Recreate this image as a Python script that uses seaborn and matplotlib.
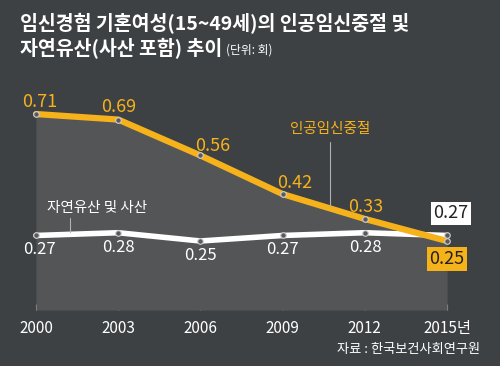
import numpy as np
import pandas as pd
import matplotlib
matplotlib.use("Agg")
import matplotlib.pyplot as plt
import seaborn as sns

# data (unit: times)
years = [2000, 2003, 2006, 2009, 2012, 2015]
year_labels = ["2000", "2003", "2006", "2009", "2012", "2015년"]
abortion = [0.71, 0.69, 0.56, 0.42, 0.33, 0.25]       # 인공임신중절
miscarriage = [0.27, 0.28, 0.25, 0.27, 0.28, 0.27]    # 자연유산 및 사산

BG = "#3e4144"
FILL = "#545557"
ORANGE = "#f6b21b"
WHITE = "#ffffff"

sns.set_style("dark")
plt.rcParams["font.family"] = ["Noto Sans CJK KR", "DejaVu Sans"]

df = pd.DataFrame({"year": years, "abortion": abortion, "miscarriage": miscarriage})

fig = plt.figure(figsize=(5, 3.66), dpi=100, facecolor=BG)
ax = fig.add_axes([36 / 500, 56 / 366, 411 / 500, 0.8 * 276 / 366])
ax.set_facecolor("none")

# grey area under the abortion line
ax.fill_between(df["year"], df["abortion"], 0, color=FILL, lw=0, zorder=1)

sns.lineplot(data=df, x="year", y="miscarriage", color=WHITE, lw=4, ax=ax,
             zorder=3, clip_on=False)
sns.lineplot(data=df, x="year", y="abortion", color=ORANGE, lw=4.5, ax=ax,
             zorder=4, clip_on=False)
for col, z in [("miscarriage", 5), ("abortion", 6)]:
    ax.scatter(df["year"], df[col], s=16, color="#5a5a5c", edgecolor="#cfcfcf",
               lw=0.8, zorder=z, clip_on=False)

ax.set_xlim(2000, 2015)
ax.set_ylim(0, 0.8)
ax.set_xticks(years)
ax.set_xticklabels(year_labels)
ax.set_yticks([])
ax.set_xlabel("")
ax.set_ylabel("")
ax.tick_params(axis="x", direction="in", length=4.5, width=0.8, color="#a8a8a8",
               labelcolor="white", labelsize=11, pad=7, bottom=True)
for s in ax.spines.values():
    s.set_visible(False)
ax.grid(False)

# value labels
ab_off = [(4, 12), (0, 13), (12, 9), (12, 11), (1, 12)]
for i in range(5):
    dx, dy = ab_off[i]
    ax.annotate(f"{abortion[i]:.2f}", (years[i], abortion[i]), xytext=(dx * 0.72, dy * 0.72),
                textcoords="offset points", ha="center", va="center",
                color=ORANGE, fontsize=13, zorder=7)
mi_off = [(3, -14), (0, -15), (0, -15), (0, -14), (1, -15)]
for i in range(5):
    dx, dy = mi_off[i]
    ax.annotate(f"{miscarriage[i]:.2f}", (years[i], miscarriage[i]), xytext=(dx * 0.72, dy * 0.72),
                textcoords="offset points", ha="center", va="center",
                color=WHITE, fontsize=12, zorder=7)

# boxed values for 2015
ax.annotate(f"{miscarriage[5]:.2f}", (years[5], miscarriage[5]), xytext=(3, 16),
            textcoords="offset points", ha="center", va="center", color="#222222",
            fontsize=13, zorder=8, annotation_clip=False,
            bbox=dict(boxstyle="square,pad=0.15", fc="white", ec="none"))
ax.annotate(f"{abortion[5]:.2f}", (years[5], abortion[5]), xytext=(0, -13),
            textcoords="offset points", ha="center", va="center", color="#222222",
            fontsize=13, zorder=8, annotation_clip=False,
            bbox=dict(boxstyle="square,pad=0.15", fc=ORANGE, ec="none"))

# series name callouts
fig.text(330 / 500, 1 - 129 / 366, "인공임신중절", color=ORANGE, fontsize=10.5,
         ha="center", va="center")
fig.add_artist(plt.Line2D([330 / 500, 330 / 500], [1 - 142 / 366, 1 - 207 / 366],
                          color="#b0b0b0", lw=0.8))
fig.text(97 / 500, 1 - 208 / 366, "자연유산 및 사산", color=WHITE, fontsize=10.5,
         ha="center", va="center")
fig.add_artist(plt.Line2D([70 / 500, 70 / 500], [1 - 218 / 366, 1 - 232 / 366],
                          color="#b0b0b0", lw=0.8))

# title
fig.text(20 / 500, 1 - 24 / 366, "임신경험 기혼여성(15~49세)의 인공임신중절 및",
         color=WHITE, fontsize=14, fontweight="bold", ha="left", va="center")
fig.text(20 / 500, 1 - 49 / 366, "자연유산(사산 포함) 추이",
         color=WHITE, fontsize=14, fontweight="bold", ha="left", va="center")
fig.text(226 / 500, 1 - 50 / 366, "(단위: 회)", color=WHITE, fontsize=8.5,
         ha="left", va="center")

fig.text(480 / 500, 1 - 349 / 366, "자료 : 한국보건사회연구원", color=WHITE,
         fontsize=9.5, ha="right", va="center")

fig.savefig("out.png", dpi=100, facecolor=BG)
